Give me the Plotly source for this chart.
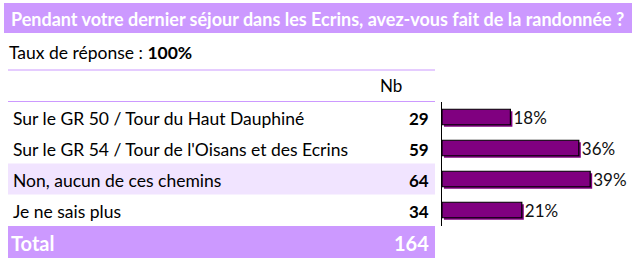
import plotly.graph_objects as go

# ---- data ----
title_text = "Pendant votre dernier séjour dans les Ecrins, avez-vous fait de la randonnée ?"
response_rate = "100%"
categories = [
    "Sur le GR 50 / Tour du Haut Dauphiné",
    "Sur le GR 54 / Tour de l'Oisans et des Ecrins",
    "Non, aucun de ces chemins",
    "Je ne sais plus",
]
counts = [29, 59, 64, 34]
total = 164  # respondents (multiple answers possible)
percents = [round(c / total * 100) for c in counts]

# ---- layout helpers ----
W, H = 636, 266
FONT = "Lato"
LAV = "#CC99FF"
LIGHT = "#F1E4FF"
BAR = "#800080"


def px(x):
    return x / W


def py(y):
    return 1 - y / H


# bar area geometry (pixels)
x0_px = 442
scale = 3.8  # px per percent
xmax = (W - x0_px) / scale
top_px, bot_px = 101.5, 225.5
row_px = (bot_px - top_px) / len(categories)
shift = 2.0  # shadow offset, px
dx = shift / scale
dy = shift / row_px

fig = go.Figure()

# shadow bars (drawn first, behind)
fig.add_trace(go.Bar(
    x=percents, y=categories, orientation="h",
    marker=dict(color=BAR, line=dict(width=0)),
    width=0.5, xaxis="x", yaxis="y", hoverinfo="skip", showlegend=False,
))
# main bars
fig.add_trace(go.Bar(
    x=percents, y=categories, orientation="h",
    marker=dict(color=BAR, line=dict(color="#000000", width=1.2)),
    width=0.5, xaxis="x2", yaxis="y2",
    text=[f"{p}%" for p in percents], textposition="outside", constraintext="none",
    textfont=dict(family=FONT, size=17, color="#111111"),
    cliponaxis=False, hoverinfo="skip", showlegend=False,
))

ydom = [py(bot_px), py(top_px)]
xdom = [px(x0_px), 1]
n = len(categories)

fig.update_layout(
    width=W, height=H,
    margin=dict(l=0, r=0, t=0, b=0),
    paper_bgcolor="white", plot_bgcolor="rgba(0,0,0,0)",
    bargap=0.5,
    xaxis=dict(domain=xdom, range=[-dx, xmax - dx], visible=False, fixedrange=True),
    yaxis=dict(domain=ydom, type="category", categoryorder="array", categoryarray=categories,
               range=[n - 0.5 - dy, -0.5 - dy], visible=False, fixedrange=True, anchor="x"),
    xaxis2=dict(domain=xdom, range=[0, xmax], visible=False, fixedrange=True, anchor="y2"),
    yaxis2=dict(domain=ydom, type="category", categoryorder="array", categoryarray=categories,
                range=[n - 0.5, -0.5], showline=True, linecolor="#000000", linewidth=1,
                showticklabels=False, ticks="", showgrid=False, zeroline=False,
                fixedrange=True, anchor="x2"),
    showlegend=False,
)

shapes = []
# title bar
shapes.append(dict(type="rect", xref="paper", yref="paper", x0=px(4), x1=px(632),
                   y0=py(33), y1=py(3), fillcolor=LAV, line=dict(width=0), layer="below"))
# lines
for yl in (70, 101.5):
    shapes.append(dict(type="line", xref="paper", yref="paper", x0=px(8), x1=px(435),
                       y0=py(yl), y1=py(yl), line=dict(color=LAV, width=1)))
# highlighted row (row 3)
r3c = top_px + row_px * 2.5
shapes.append(dict(type="rect", xref="paper", yref="paper", x0=px(8), x1=px(435),
                   y0=py(r3c + 15.5), y1=py(r3c - 15.5), fillcolor=LIGHT,
                   line=dict(width=0), layer="below"))
# total row
shapes.append(dict(type="rect", xref="paper", yref="paper", x0=px(8), x1=px(435),
                   y0=py(258), y1=py(226), fillcolor=LAV, line=dict(width=0), layer="below"))
fig.update_layout(shapes=shapes)

ann = []
ann.append(dict(text=f"<b>{title_text}</b>", xref="paper", yref="paper", x=px(9), y=py(19),
                xanchor="left", yanchor="middle", showarrow=False,
                font=dict(family=FONT, size=18, color="white")))
ann.append(dict(text=f"Taux de réponse : <b>{response_rate}</b>", xref="paper", yref="paper",
                x=px(7), y=py(52), xanchor="left", yanchor="middle", showarrow=False,
                font=dict(family=FONT, size=17.5, color="black")))
ann.append(dict(text="Nb", xref="paper", yref="paper", x=px(391), y=py(86),
                xanchor="center", yanchor="middle", showarrow=False,
                font=dict(family=FONT, size=17, color="black")))
for i, (cat, c) in enumerate(zip(categories, counts)):
    yc = top_px + row_px * (i + 0.5) + 1.5
    ann.append(dict(text=cat, xref="paper", yref="paper", x=px(11), y=py(yc),
                    xanchor="left", yanchor="middle", showarrow=False,
                    font=dict(family=FONT, size=17.5, color="black")))
    ann.append(dict(text=f"<b>{c}</b>", xref="paper", yref="paper", x=px(431), y=py(yc),
                    xanchor="right", yanchor="middle", showarrow=False,
                    font=dict(family=FONT, size=17, color="black")))
ann.append(dict(text="<b>Total</b>", xref="paper", yref="paper", x=px(9), y=py(242.5),
                xanchor="left", yanchor="middle", showarrow=False,
                font=dict(family=FONT, size=20, color="white")))
ann.append(dict(text=f"<b>{total}</b>", xref="paper", yref="paper", x=px(431), y=py(242.5),
                xanchor="right", yanchor="middle", showarrow=False,
                font=dict(family=FONT, size=20, color="white")))
fig.update_layout(annotations=ann)

fig.write_html("out.html", config={"displayModeBar": False, "staticPlot": True})
